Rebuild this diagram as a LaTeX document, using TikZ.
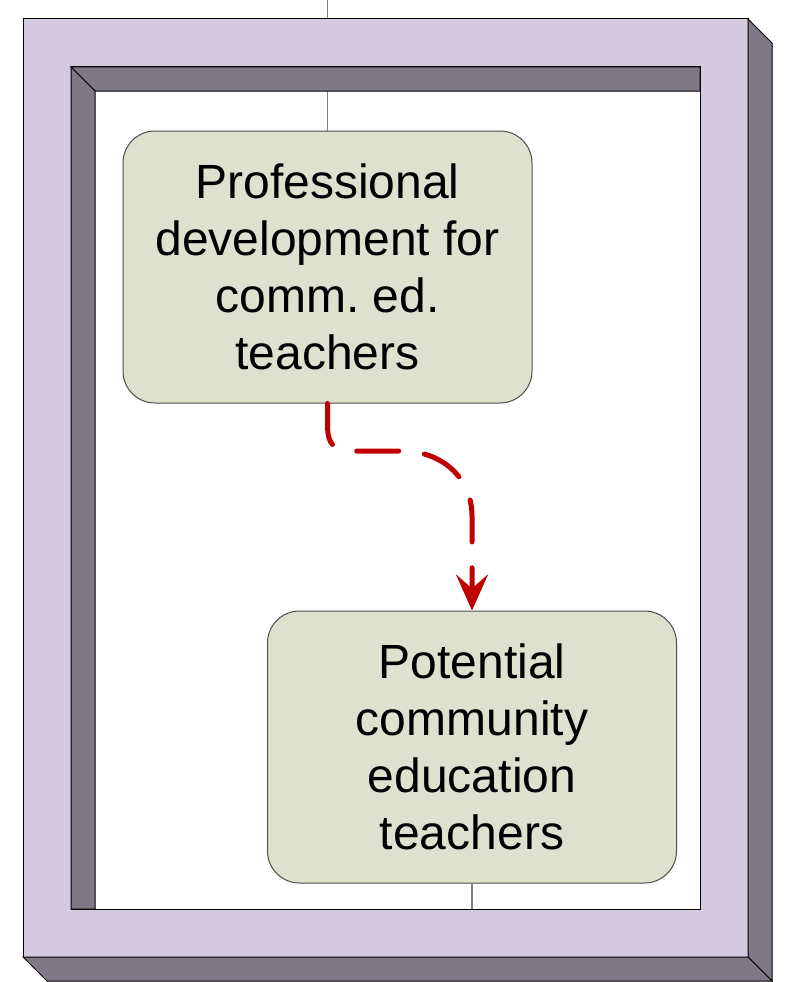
\documentclass[tikz,border=0pt]{standalone}
\usepackage{fontspec}
\setmainfont{Liberation Sans}
\usetikzlibrary{arrows.meta,positioning}
\definecolor{framelilac}{HTML}{D3CAE0}
\definecolor{frameshade}{HTML}{7F7886}
\definecolor{boxgreen}{HTML}{DEE1CD}
\definecolor{flowred}{HTML}{C00000}

\begin{document}
\begin{tikzpicture}[x=1pt,y=-1pt,
    stepbox/.style={draw=black!70, line width=1pt, fill=boxgreen, rounded corners=32pt,
      minimum width=409pt, minimum height=272pt, inner sep=0pt, align=center,
      font=\fontsize{48}{57}\selectfont\frenchspacing},
    link/.style={draw=gray, line width=1.5pt},
    flow/.style={draw=flowred, line width=5pt, line cap=round, dash pattern=on 42pt off 26pt,
      -{Stealth[length=36pt,width=32pt,inset=14pt]}}]
  \useasboundingbox (0,0) rectangle (791,982);

  \node[stepbox] (prof) at (327.5,267) {Professional\\development for\\comm. ed.\\teachers};
  \node[stepbox] (pot) at (472,747) {Potential\\community\\education\\teachers};
  \coordinate (feedin) at (327.5,0);
  \coordinate (feedout) at (472,909);

  % thin feed lines
  \draw[link] (feedin) -- (prof.north);
  \draw[link] (pot.south) -- (feedout);

  % 3d frame
  \fill[framelilac, draw=black, line width=1pt, even odd rule] (23,19) rectangle (748,957) (71,67) rectangle (700,909);
  \fill[frameshade, draw=black, line width=1pt] (748,19) -- (772,43) -- (772,981) -- (748,957) -- cycle;
  \fill[frameshade, draw=black, line width=1pt] (23,957) -- (748,957) -- (772,981) -- (47,981) -- cycle;
  \fill[frameshade, draw=black, line width=1pt] (71,67) -- (700,67) -- (700,91) -- (95,91) -- cycle;
  \fill[frameshade, draw=black, line width=1pt] (71,67) -- (95,91) -- (95,909) -- (71,909) -- cycle;

  % dashed flow
  \draw[flow] (prof.south) -- (327.5,425) .. controls (327.5,446) and (335,451) .. (354,451) -- (402,451)
    .. controls (442,451) and (472,478) .. (472,516) -- (pot.north);
\end{tikzpicture}
\end{document}
